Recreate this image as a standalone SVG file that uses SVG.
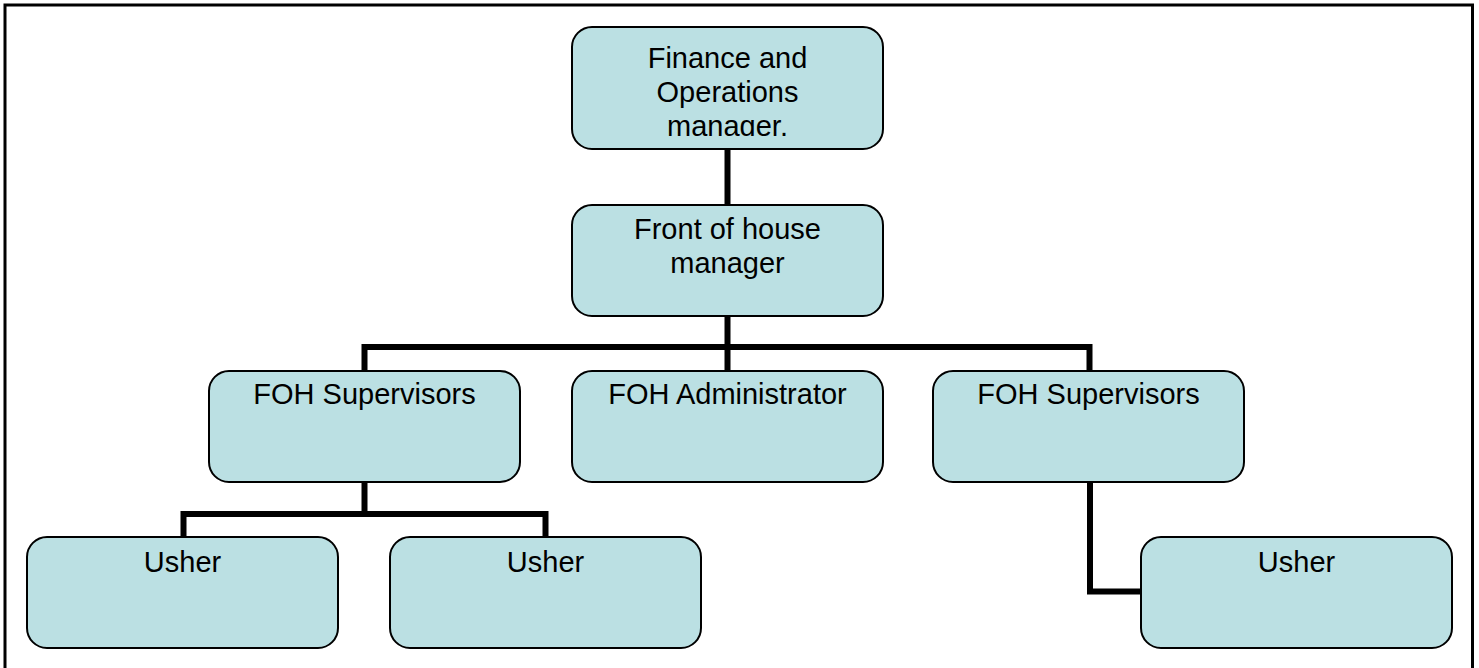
<svg xmlns="http://www.w3.org/2000/svg" width="1479" height="668" viewBox="0 0 1479 668">
<defs>
<style>
.box{fill:#BBE0E3;stroke:#000;stroke-width:2}
.lbl{font-family:"Liberation Sans",Arial,sans-serif;font-size:29px;fill:#000;text-anchor:middle}
.con{fill:none;stroke:#000;stroke-width:6;stroke-linejoin:miter;stroke-linecap:butt}
</style>
<clipPath id="clip1"><rect x="572" y="27" width="311" height="109"/></clipPath>
</defs>
<rect width="1479" height="668" fill="#fff"/>
<rect x="5" y="5" width="1467.5" height="700" fill="none" stroke="#000" stroke-width="3"/>
<g id="connectors">
<path class="con" d="M727.5,149 V205"/>
<path class="con" d="M727.5,316 V371"/>
<path class="con" d="M364.5,371 V347 H1089.5 V371"/>
<path class="con" d="M364.5,482 V514"/>
<path class="con" d="M183.5,537 V514 H545.5 V537"/>
<path class="con" d="M1090,482 V591.5 H1141"/>
</g>
<g id="n1">
<rect class="box" x="572" y="27" width="311" height="122" rx="20"/>
<g clip-path="url(#clip1)">
<text class="lbl" x="727.5" y="68">Finance and</text>
<text class="lbl" x="727.5" y="102">Operations</text>
<text class="lbl" x="727.5" y="136">manager.</text>
</g>
</g>
<g id="n2">
<rect class="box" x="572" y="205" width="311" height="111" rx="20"/>
<text class="lbl" x="727.5" y="239">Front of house</text>
<text class="lbl" x="727.5" y="273">manager</text>
</g>
<g id="n3">
<rect class="box" x="209" y="371" width="311" height="111" rx="20"/>
<text class="lbl" x="364.5" y="404">FOH Supervisors</text>
</g>
<g id="n4">
<rect class="box" x="572" y="371" width="311" height="111" rx="20"/>
<text class="lbl" x="727.5" y="404">FOH Administrator</text>
</g>
<g id="n5">
<rect class="box" x="933" y="371" width="311" height="111" rx="20"/>
<text class="lbl" x="1088.5" y="404">FOH Supervisors</text>
</g>
<g id="n6">
<rect class="box" x="27" y="537" width="311" height="111" rx="20"/>
<text class="lbl" x="182.5" y="572">Usher</text>
</g>
<g id="n7">
<rect class="box" x="390" y="537" width="311" height="111" rx="20"/>
<text class="lbl" x="545.5" y="572">Usher</text>
</g>
<g id="n8">
<rect class="box" x="1141" y="537" width="311" height="111" rx="20"/>
<text class="lbl" x="1296.5" y="572">Usher</text>
</g>
</svg>
